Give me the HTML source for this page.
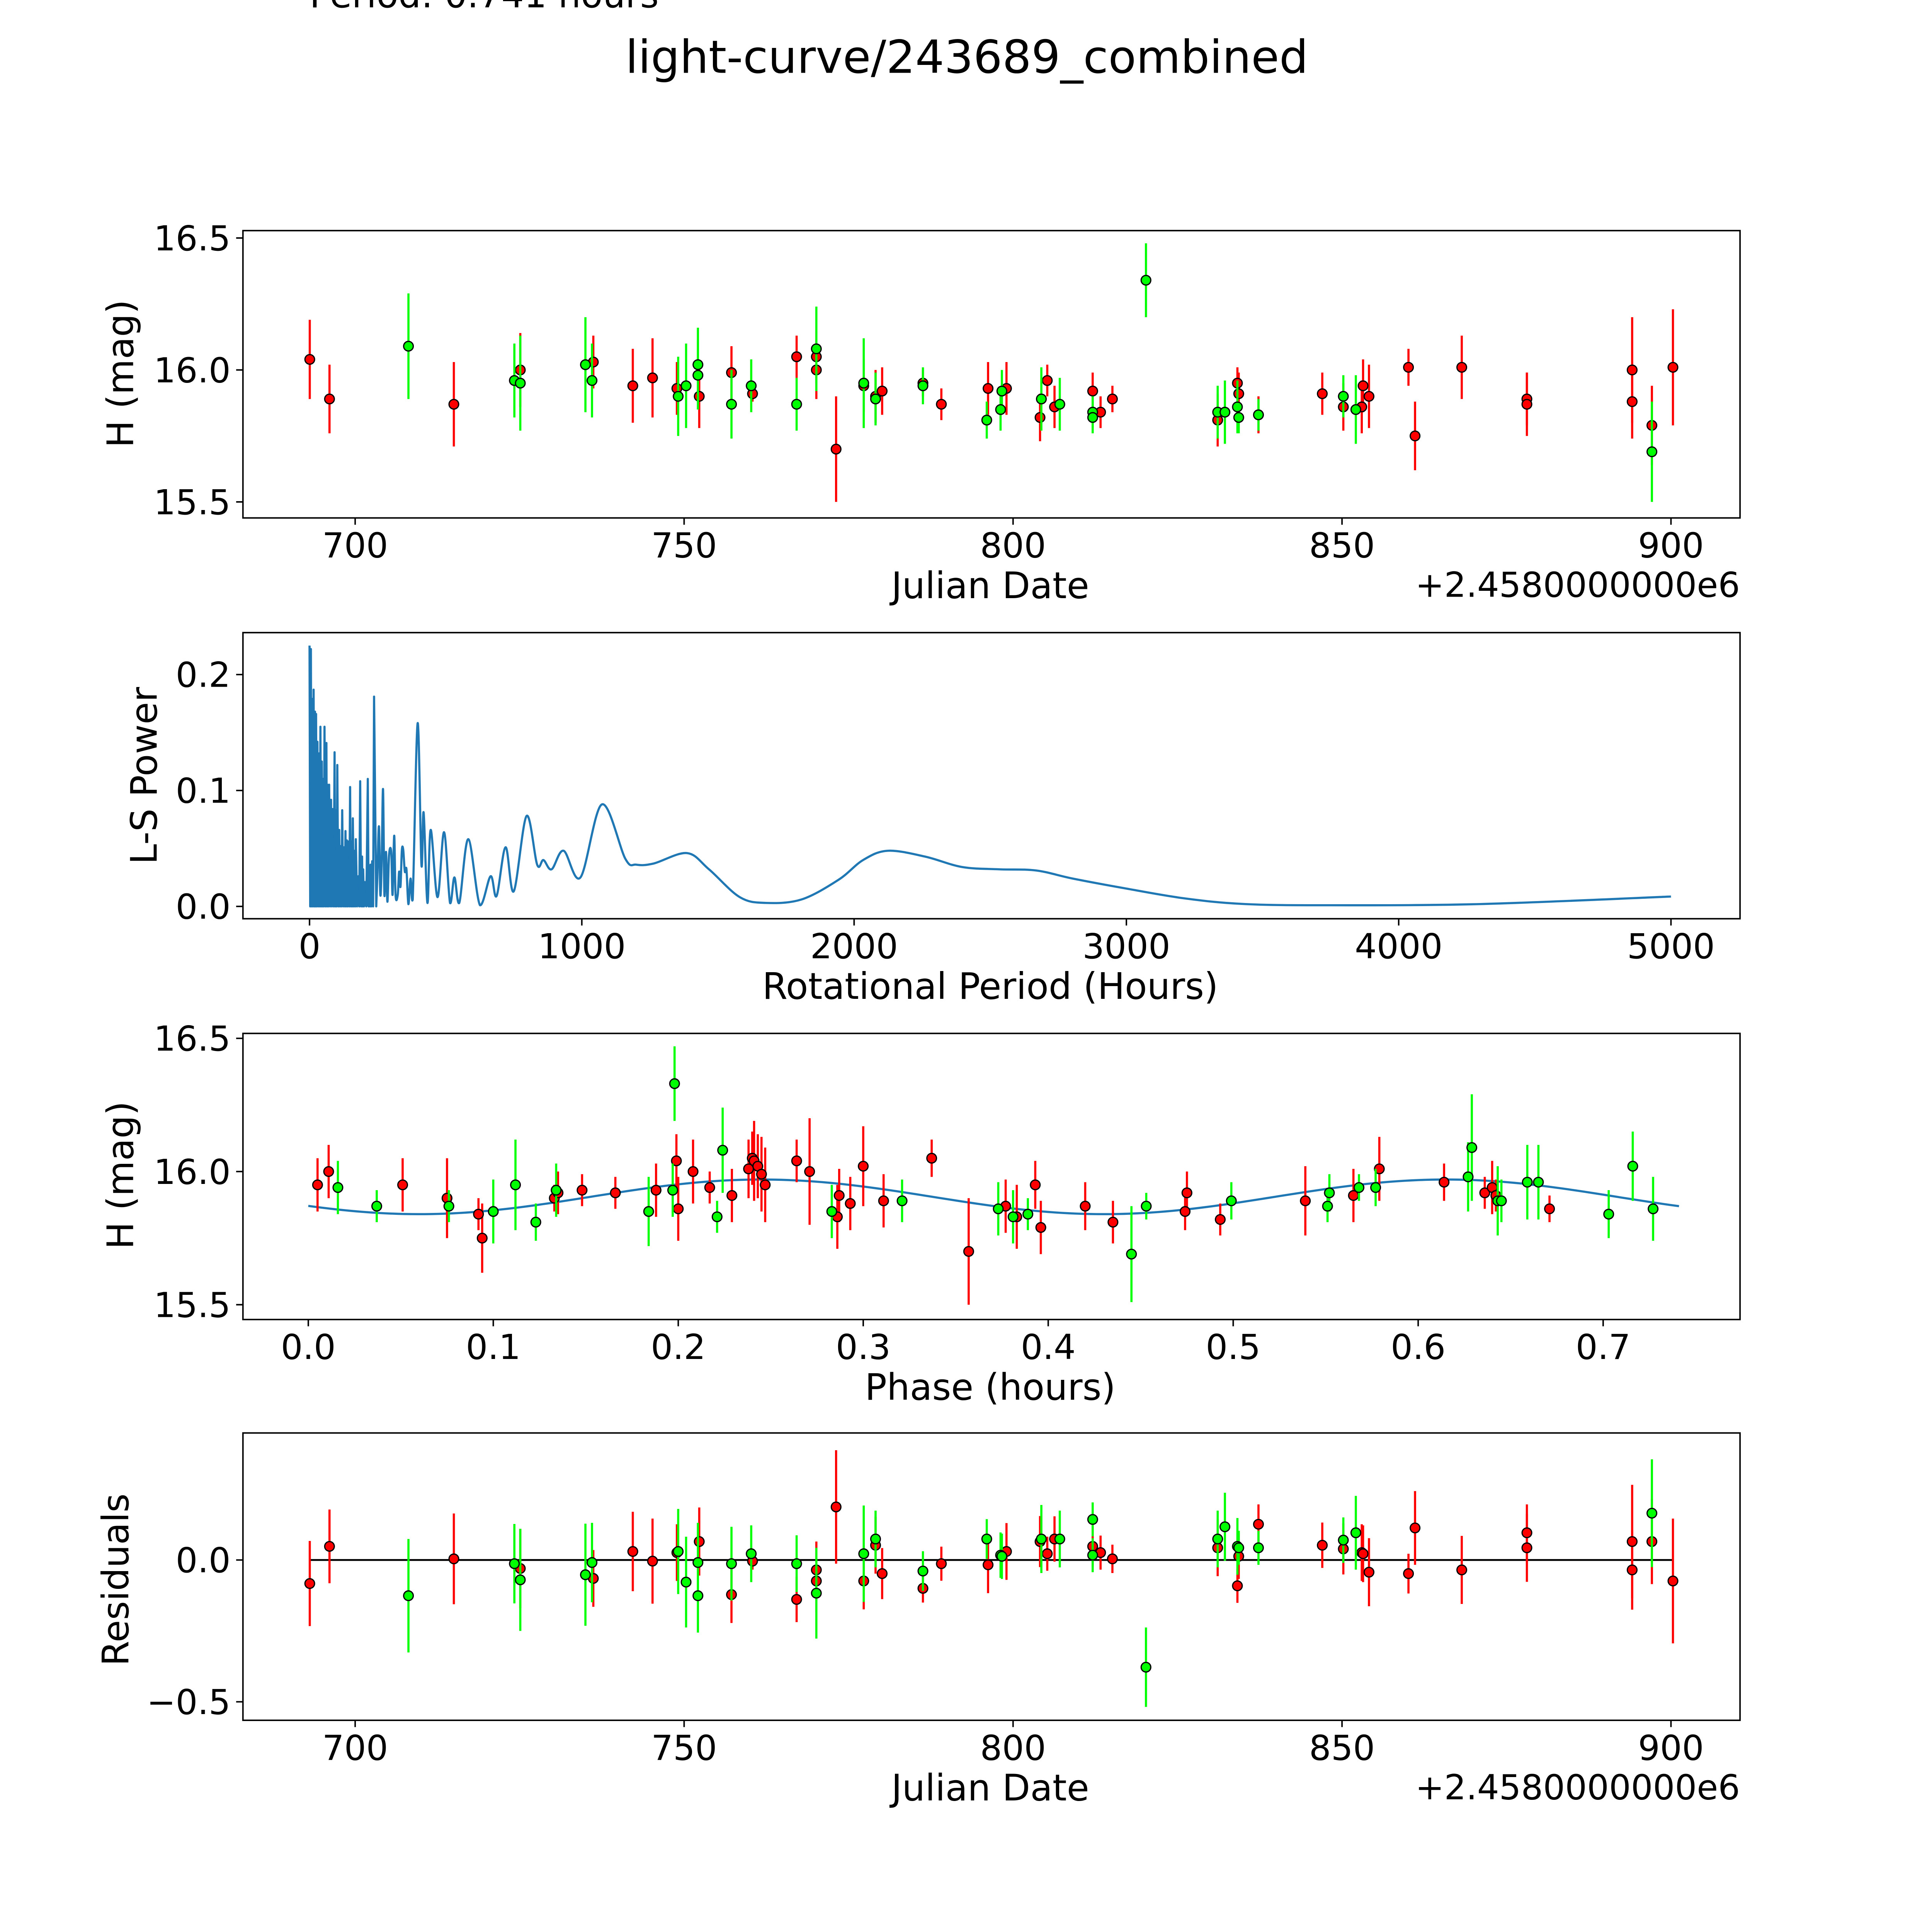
<!DOCTYPE html>
<html><head><meta charset="utf-8">
<style>html,body{margin:0;padding:0;background:#fff;overflow:hidden;width:5400px;height:5400px}svg{display:block}text{font-family:"DejaVu Sans","Liberation Sans",sans-serif;fill:#000}</style>
</head><body>
<svg id="chart" xmlns="http://www.w3.org/2000/svg" width="5400" height="5400" viewBox="0 0 1692 1692">
<rect width="1692" height="1692" fill="#fff"/>
<text x="251" y="6" font-size="29">Period: 0.741 hours</text>
<text x="784" y="59" font-size="37" text-anchor="middle">light-curve/243689_combined</text>
<g id="g1"></g><g id="g2"></g><g id="g3"></g><g id="g4"></g>
</svg>
<script>
// ---- Panel 1 data: dates (JD - 2458000), magnitude, error ----
const redDates=[693.1,696.1,715.0,725.1,736.2,742.2,745.2,748.9,752.3,757.2,760.4,767.1,770.1,770.1,773.1,777.3,779.1,780.1,786.3,789.1,796.2,799.0,804.1,805.2,806.3,812.1,813.3,815.1,831.1,834.1,834.3,837.3,847.0,850.2,853.0,853.2,854.1,860.1,861.1,868.2,878.1,878.1,894.1,894.1,897.1,900.3];
const redMags=[16.04,15.89,15.87,16.00,16.03,15.94,15.97,15.93,15.90,15.99,15.91,16.05,16.05,16.00,15.70,15.94,15.90,15.92,15.95,15.87,15.93,15.93,15.82,15.96,15.86,15.92,15.84,15.89,15.81,15.95,15.91,15.83,15.91,15.86,15.86,15.94,15.90,16.01,15.75,16.01,15.89,15.87,16.00,15.88,15.79,16.01];
const redErrs=[0.15,0.13,0.16,0.14,0.10,0.14,0.15,0.10,0.12,0.10,0.03,0.08,0.10,0.11,0.20,0.10,0.10,0.09,0.05,0.06,0.10,0.10,0.09,0.06,0.08,0.07,0.06,0.05,0.10,0.06,0.08,0.07,0.08,0.09,0.10,0.10,0.12,0.07,0.13,0.12,0.10,0.12,0.20,0.14,0.15,0.22];
const greenDates=[708.1,724.2,725.1,735.0,736.0,749.1,750.3,752.1,752.1,757.2,760.2,767.1,770.1,777.3,779.1,786.3,796.0,798.1,798.3,804.3,807.1,812.1,812.1,820.2,831.1,832.2,834.1,834.3,850.2,852.1,897.1,837.3];
const greenMags=[16.09,15.96,15.95,16.02,15.96,15.90,15.94,16.02,15.98,15.87,15.94,15.87,16.08,15.95,15.89,15.94,15.81,15.85,15.92,15.89,15.87,15.84,15.82,16.34,15.84,15.84,15.86,15.82,15.90,15.85,15.69,15.83];
const greenErrs=[0.20,0.14,0.18,0.18,0.14,0.15,0.16,0.14,0.13,0.13,0.10,0.10,0.16,0.17,0.10,0.07,0.07,0.08,0.08,0.12,0.10,0.06,0.06,0.14,0.10,0.12,0.10,0.06,0.08,0.13,0.19,0.06];
// ---- Panel 4 residuals (same order as panel 1) ----
const redResiduals=[-0.083,0.048,0.004,-0.030,-0.065,0.030,-0.004,0.026,0.065,-0.122,-0.004,-0.139,-0.035,-0.074,0.187,-0.074,0.052,-0.048,-0.100,-0.013,-0.017,0.030,0.065,0.022,0.074,0.048,0.026,0.004,0.043,-0.091,0.013,0.126,0.052,0.039,0.026,0.022,-0.043,-0.048,0.113,-0.035,0.096,0.043,0.065,-0.035,0.065,-0.074];
const greenResiduals=[-0.126,-0.013,-0.070,-0.052,-0.009,0.030,-0.078,-0.009,-0.126,-0.013,0.022,-0.013,-0.117,0.022,0.074,-0.039,0.074,0.017,0.013,0.074,0.074,0.143,0.017,-0.378,0.074,0.117,0.048,0.043,0.070,0.096,0.165,0.043];
// ---- Panel 3 phased data ----
const redPhase=[0.005,0.011,0.051,0.075,0.092,0.094,0.133,0.135,0.148,0.166,0.188,0.199,0.200,0.208,0.217,0.229,0.238,0.240,0.241,0.243,0.245,0.247,0.264,0.271,0.286,0.287,0.293,0.300,0.311,0.337,0.357,0.377,0.383,0.393,0.396,0.420,0.435,0.474,0.475,0.493,0.539,0.565,0.579,0.614,0.636,0.640,0.642,0.671];
const redPhaseMags=[15.95,16.00,15.95,15.90,15.84,15.75,15.90,15.92,15.93,15.92,15.93,16.04,15.86,16.00,15.94,15.91,16.01,16.05,16.04,16.02,15.99,15.95,16.04,16.00,15.83,15.91,15.88,16.02,15.89,16.05,15.70,15.87,15.83,15.95,15.79,15.87,15.81,15.85,15.92,15.82,15.89,15.91,16.01,15.96,15.92,15.94,15.91,15.86];
const redPhaseErrs=[0.1,0.1,0.1,0.15,0.06,0.13,0.05,0.08,0.06,0.06,0.1,0.1,0.12,0.12,0.06,0.1,0.11,0.1,0.15,0.12,0.14,0.14,0.08,0.2,0.12,0.1,0.1,0.15,0.1,0.07,0.2,0.1,0.12,0.09,0.1,0.09,0.08,0.07,0.08,0.06,0.13,0.1,0.12,0.07,0.06,0.1,0.06,0.05];
const greenPhase=[0.016,0.037,0.076,0.100,0.112,0.123,0.134,0.184,0.197,0.198,0.221,0.224,0.283,0.321,0.373,0.381,0.389,0.445,0.453,0.499,0.551,0.552,0.568,0.577,0.627,0.629,0.643,0.645,0.659,0.665,0.703,0.716,0.727];
const greenPhaseMags=[15.94,15.87,15.87,15.85,15.95,15.81,15.93,15.85,15.93,16.33,15.83,16.08,15.85,15.89,15.86,15.83,15.84,15.69,15.87,15.89,15.87,15.92,15.94,15.94,15.98,16.09,15.89,15.89,15.96,15.96,15.84,16.02,15.86];
const greenPhaseErrs=[0.1,0.06,0.06,0.12,0.17,0.07,0.1,0.13,0.1,0.14,0.06,0.16,0.1,0.08,0.1,0.1,0.06,0.18,0.05,0.07,0.06,0.07,0.05,0.07,0.13,0.2,0.13,0.08,0.14,0.14,0.09,0.13,0.12];
// ---- Panel 3 model (sinusoid) ----
const modelMean=[15.905], modelAmp=[0.065], modelPeriod=[0.37], modelShift=[0.1525], phaseMax=[0.741];
// ---- Panel 2 periodogram ----
const lsSpikePeriods=[0,5,10,15,20,24,29,35,40,45,50,55,62,66,72,79,85,92,96,102,109,114,120,127,132,137,143,149,155,159,166,170,179,186,193,197,203,214,220,224,230,237];
const lsSpikePowers=[0.225,0.222,0.179,0.187,0.168,0.166,0.142,0.132,0.155,0.125,0.110,0.155,0.141,0.105,0.105,0.092,0.084,0.133,0.083,0.122,0.066,0.052,0.083,0.051,0.065,0.057,0.056,0.103,0.056,0.076,0.048,0.058,0.026,0.108,0.043,0.032,0.021,0.110,0.023,0.036,0.039,0.181];
const lsPeriods=[245,249,255,260,265,270,275,281,286,292,300,305,311,316,324,329,334,339,344,350,356,363,371,379,397,411,419,433,445,470,494,516,532,550,583,626,665,687,720,750,797,836,859,889,933,995,1074,1160,1200,1264,1386,1467,1580,1676,1807,1943,2033,2124,2260,2396,2532,2668,2803,2985,3211,3437,3754,4298,5000];
const lsPowers=[0,0.025,0.069,0.010,0.039,0.101,0.010,0.047,0.004,0.044,0.047,0.010,0.061,0.010,0.010,0.030,0.017,0.048,0.049,0.030,0.032,0.002,0.024,0.006,0.158,0.036,0.081,0.003,0.066,0.008,0.064,0.003,0.025,0.003,0.058,0.001,0.026,0.009,0.051,0.013,0.078,0.036,0.040,0.032,0.048,0.025,0.088,0.041,0.036,0.037,0.046,0.032,0.008,0.003,0.006,0.023,0.040,0.048,0.043,0.034,0.032,0.031,0.024,0.016,0.007,0.002,0.001,0.002,0.0085];
// ---- Tick labels ----
const dateTicks=[700,750,800,850,900];
const magTicks=[16.5,16.0,15.5];
const lsYTicks=[0.0,0.1,0.2];
const lsXTicks=[0,1000,2000,3000,4000,5000];
const phaseTicks=[0.0,0.1,0.2,0.3,0.4,0.5,0.6,0.7];
const resTicks=[0.0,-0.5];

const NS='http://www.w3.org/2000/svg';
function mk(parent,tag,attrs,text){const e=document.createElementNS(NS,tag);for(const k in attrs)e.setAttribute(k,attrs[k]);if(text!==undefined)e.textContent=text;parent.appendChild(e);return e;}
function lin(d0,d1,r0,r1){return v=>r0+(v-d0)*(r1-r0)/(d1-d0);}
const L=197,R=1411;
const xDate=lin(700,900,288,1355);
const TF=28,LF=29.5;

function frame(g,top,bot,name){
  const r=mk(g,'rect',{x:L,y:top,width:R-L,height:bot-top,fill:'none',stroke:'#000','stroke-width':1.2});
  
  
}
function xTicks(g,ticks,xs,bot,fmt,name){
  ticks.forEach(t=>{const x=xs(t);
    const l=mk(g,'line',{x1:x,x2:x,y1:bot,y2:bot+5.5,stroke:'#000','stroke-width':1.2});
    
    
    const tx=mk(g,'text',{x:x,y:bot+32,'font-size':TF,'text-anchor':'middle'},fmt(t));
    
    });
}
function yTicks(g,ticks,ys,fmt,name){
  ticks.forEach(t=>{const y=ys(t);
    const l=mk(g,'line',{x1:L-5.5,x2:L,y1:y,y2:y,stroke:'#000','stroke-width':1.2});
    
    
    const tx=mk(g,'text',{x:L-10,y:y+10,'font-size':TF,'text-anchor':'end'},fmt(t));
    
    });
}
function label(g,x,y,txt,rot,name){
  const t=mk(g,'text',{x:x,y:y,'font-size':LF,'text-anchor':'middle',transform:rot?`rotate(-90 ${x} ${y})`:''},txt);
  
  
}
function points(g,xs,ys,X,Y,E,col,name){
  X.forEach((v,i)=>{const x=xs(v),y=ys(Y[i]),e=Math.abs(ys(Y[i]+E[i])-y);
    const l=mk(g,'line',{x1:x,x2:x,y1:y-e,y2:y+e,stroke:col,'stroke-width':1.75});
    
    });
  X.forEach((v,i)=>{
    const c=mk(g,'circle',{cx:xs(v),cy:ys(Y[i]),r:3.9,fill:col,stroke:'#000','stroke-width':1});
    
    });
}
const f1=t=>t.toFixed(1);
const RED='#ff0000',GRN='#00ff00';

// Panel 1
(function(){const g=document.getElementById('g1');const T=187,B=420;
  const y=lin(16,15.5,300,407);
  frame(g,T,B,'lightcurve-panel');
  xTicks(g,dateTicks,xDate,B,t=>String(t),'date-x');
  yTicks(g,magTicks,y,f1,'mag-y');
  points(g,xDate,y,redDates,redMags,redErrs,RED,'red-observation');
  points(g,xDate,y,greenDates,greenMags,greenErrs,GRN,'green-observation');
  label(g,803,485,'Julian Date',false,'x-axis-title-julian-date');
  label(g,108,303,'H (mag)',true,'y-axis-title-h-mag');
  const o=mk(g,'text',{x:R,y:484,'font-size':TF,'text-anchor':'end'},'+2.4580000000e6');
  
  
})();

// Panel 2
(function(){const g=document.getElementById('g2');const T=513,B=745;
  const x=lin(0,5000,251,1355),y=lin(0,0.1,735,641);
  frame(g,T,B,'periodogram-panel');
  xTicks(g,lsXTicks,x,B,t=>String(t),'period-x');
  yTicks(g,lsYTicks,y,f1,'power-y');
  let d='';
  lsSpikePeriods.forEach((p,i)=>{d+=(i?'L':'M')+x(p).toFixed(2)+','+y(lsSpikePowers[i]).toFixed(2);
    if(i<lsSpikePeriods.length-1){const pm=(p+lsSpikePeriods[i+1])/2;d+='L'+x(pm).toFixed(2)+','+y(0).toFixed(2);}});
  const P=lsPeriods.map((p,i)=>[x(p),y(lsPowers[i])]);
  d+='L'+P[0][0].toFixed(2)+','+P[0][1].toFixed(2);
  for(let i=0;i<P.length-1;i++){
    const p0=P[Math.max(0,i-1)],p1=P[i],p2=P[i+1],p3=P[Math.min(P.length-1,i+2)];
    const c1=[p1[0]+(p2[0]-p0[0])/6,p1[1]+(p2[1]-p0[1])/6];
    const c2=[p2[0]-(p3[0]-p1[0])/6,p2[1]-(p3[1]-p1[1])/6];
    d+='C'+c1[0].toFixed(2)+','+Math.min(c1[1],y(0)).toFixed(2)+' '+c2[0].toFixed(2)+','+Math.min(c2[1],y(0)).toFixed(2)+' '+p2[0].toFixed(2)+','+p2[1].toFixed(2);
  }
  const pth=mk(g,'path',{d:d,fill:'none',stroke:'#1f77b4','stroke-width':1.75,'stroke-linejoin':'round'});
  
  
  let fd='M'+x(0)+','+y(0);
  lsSpikePeriods.forEach((p,i)=>{fd+='L'+x(p)+','+y(lsSpikePowers[i]*0.55);});
  fd+='L'+x(lsSpikePeriods[lsSpikePeriods.length-1])+','+y(0)+'Z';
  const fp=mk(g,'path',{d:fd,fill:'#1f77b4',stroke:'none'});
  
  
  label(g,803,810,'Rotational Period (Hours)',false,'x-axis-title-rotational-period');
  label(g,127,629,'L-S Power',true,'y-axis-title-ls-power');
})();

// Panel 3
(function(){const g=document.getElementById('g3');const T=838,B=1070;
  const x=lin(0,0.1,250,400),y=lin(16,15.5,950,1058);
  frame(g,T,B,'phase-panel');
  xTicks(g,phaseTicks,x,B,f1,'phase-x');
  yTicks(g,magTicks,y,f1,'phase-mag-y');
  let d='';
  for(let i=0;i<=200;i++){const p=phaseMax[0]*i/200;
    const m=modelMean[0]+modelAmp[0]*Math.sin(2*Math.PI*(p-modelShift[0])/modelPeriod[0]);
    d+=(i?'L':'M')+x(p).toFixed(2)+','+y(m).toFixed(2);}
  const c=mk(g,'path',{d:d,fill:'none',stroke:'#1f77b4','stroke-width':1.75});
  
  
  points(g,x,y,redPhase,redPhaseMags,redPhaseErrs,RED,'red-phased');
  points(g,x,y,greenPhase,greenPhaseMags,greenPhaseErrs,GRN,'green-phased');
  label(g,803,1135,'Phase (hours)',false,'x-axis-title-phase');
  label(g,108,953,'H (mag)',true,'y-axis-title-phase-mag');
})();

// Panel 4
(function(){const g=document.getElementById('g4');const T=1162,B=1395;
  const y=lin(0,-0.5,1265,1380);
  frame(g,T,B,'residuals-panel');
  xTicks(g,dateTicks,xDate,B,t=>String(t),'res-date-x');
  yTicks(g,resTicks,y,t=>t<0?'\u22120.5':'0.0','res-y');
  const zl=mk(g,'line',{x1:xDate(693.1),x2:xDate(900.3),y1:y(0),y2:y(0),stroke:'#000','stroke-width':1.5});
  
  
  points(g,xDate,y,redDates,redResiduals,redErrs,RED,'red-residual');
  points(g,xDate,y,greenDates,greenResiduals,greenErrs,GRN,'green-residual');
  label(g,803,1460,'Julian Date',false,'x-axis-title-julian-date-res');
  label(g,104,1281,'Residuals',true,'y-axis-title-residuals');
  const o=mk(g,'text',{x:R,y:1459,'font-size':TF,'text-anchor':'end'},'+2.4580000000e6');
  
  
})();
</script>
</body></html>
